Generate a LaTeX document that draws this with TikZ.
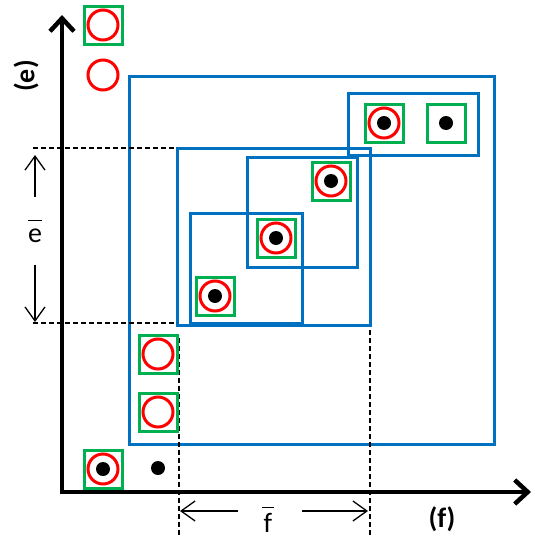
\documentclass[tikz,border=0pt]{standalone}
\usepackage{fontspec}
\setmainfont{Carlito}
\usetikzlibrary{arrows.meta}
\definecolor{oblue}{RGB}{0,112,192}
\definecolor{ogreen}{RGB}{0,176,80}
\begin{document}
\begin{tikzpicture}[x=1pt,y=-1pt,
  sqbox/.style={draw=ogreen,line width=3pt,minimum size=38pt,inner sep=0pt},
  ring/.style={circle,draw=red,line width=3pt,minimum size=30pt,inner sep=0pt},
  blk/.style={circle,fill=black,minimum size=14pt,inner sep=0pt},
  axis/.style={line width=4.5pt,-{Straight Barb[length=13pt,width=24pt]}},
  dim/.style={line width=1.3pt,-{Straight Barb[length=14pt,width=20pt]}},
  guide/.style={line width=1.5pt,dash pattern=on 5pt off 3pt},
  frame/.style={draw=oblue,line width=3pt},
  lab/.style={font=\fontsize{28pt}{32pt}\selectfont,inner sep=0pt},
  blab/.style={font=\fontsize{28pt}{32pt}\selectfont\bfseries}]
\path[use as bounding box] (0,0) rectangle (535,538);
% blue frames
\draw[frame] (129,76) rectangle (494,444);
\draw[frame] (348,93) rectangle (478,155);
\draw[frame] (177,148) rectangle (370,325);
\draw[frame] (247,157) rectangle (357,267);
\draw[frame] (190,213) rectangle (302,323);
% guide lines
\coordinate (gt1) at (33,148); \coordinate (gt2) at (177,148);
\coordinate (gb1) at (33,323); \coordinate (gb2) at (177,323);
\coordinate (gl1) at (179,338); \coordinate (gl2) at (179,538);
\coordinate (gr1) at (370,330); \coordinate (gr2) at (370,538);
\draw[guide] (gt1) -- (gt2);
\draw[guide] (gb1) -- (gb2);
\draw[guide] (gl1) -- (gl2);
\draw[guide] (gr1) -- (gr2);
% axes
\coordinate (o1) at (62,494); \coordinate (ytip) at (62,15);
\coordinate (o2) at (60,492); \coordinate (xtip) at (531,492);
\draw[axis] (o1) -- (ytip);
\draw[axis] (o2) -- (xtip);
% markers
\node[sqbox] (s1) at (103,25) {}; \node[ring] (r1) at (103,25) {};
\node[ring] (r2) at (103,75) {};
\node[sqbox] (s3) at (384,123) {}; \node[ring] (r3) at (384,123) {}; \node[blk] (d3) at (384,123) {};
\node[sqbox] (s4) at (446,123) {}; \node[blk] (d4) at (446,123) {};
\node[sqbox] (s5) at (331,181) {}; \node[ring] (r5) at (331,181) {}; \node[blk] (d5) at (331,181) {};
\node[sqbox] (s6) at (276,238) {}; \node[ring] (r6) at (276,238) {}; \node[blk] (d6) at (276,238) {};
\node[sqbox] (s7) at (215,296) {}; \node[ring] (r7) at (215,296) {}; \node[blk] (d7) at (215,296) {};
\node[sqbox] (s8) at (158,354) {}; \node[ring] (r8) at (158,354) {};
\node[sqbox] (s9) at (158,412) {}; \node[ring] (r9) at (158,412) {};
\node[sqbox] (s10) at (103,469) {}; \node[ring] (r10) at (103,469) {}; \node[blk] (d10) at (103,469) {};
\node[blk] (d11) at (158,468) {};
% dimension arrows
\coordinate (eu1) at (35,197); \coordinate (eu2) at (35,155);
\coordinate (ed1) at (35,265); \coordinate (ed2) at (35,322);
\draw[dim] (eu1) -- (eu2);
\draw[dim] (ed1) -- (ed2);
\coordinate (fl1) at (238,511); \coordinate (fl2) at (180,511);
\coordinate (fr1) at (302,511); \coordinate (fr2) at (368,511);
\draw[dim] (fl1) -- (fl2);
\draw[dim] (fr1) -- (fr2);
% labels
\node[lab,anchor=base] (ebar) at (35,242) {$\overline{\mbox{\rule{0pt}{0.72em}e}}$};
\node[lab,anchor=base] (fbar) at (268,532) {$\overline{\mbox{\rule{0pt}{0.84em}\kern1.5pt f\kern1.5pt}}$};
\node[blab,rotate=90] (elab) at (26,76) {(e)};
\node[blab] (flab) at (442,519) {(f)};
\end{tikzpicture}
\end{document}
